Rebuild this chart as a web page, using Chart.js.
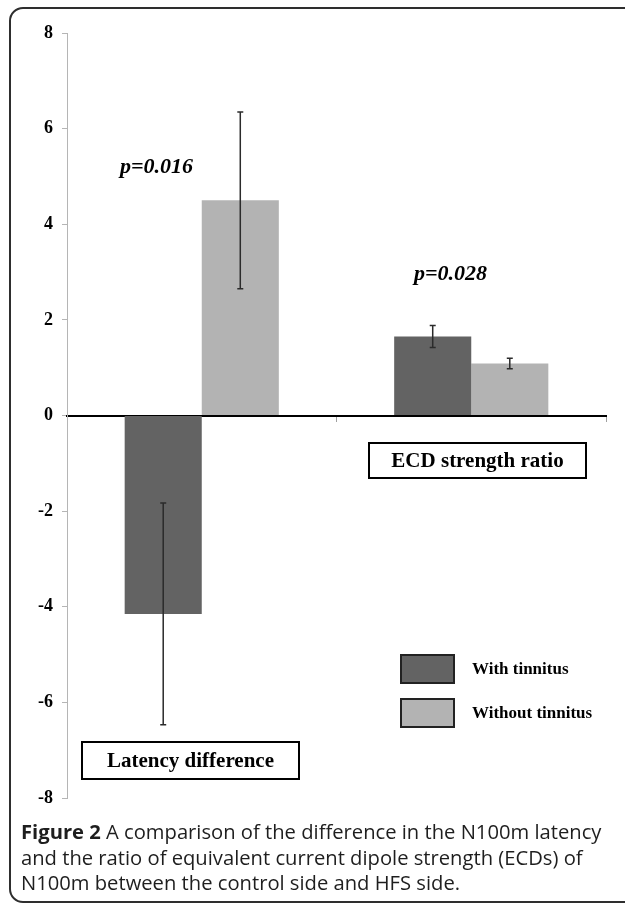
<!DOCTYPE html>
<html>
<head>
<meta charset="utf-8">
<script src="https://cdn.jsdelivr.net/npm/chart.js@4/dist/chart.umd.min.js"></script>
<style>
  html, body { margin: 0; padding: 0; background: #fff; }
  body { width: 625px; height: 903px; position: relative; overflow: hidden; }
  #frame {
    position: absolute; left: 9px; top: 7px; width: 700px; height: 892px;
    border: 2px solid #2e2e2e; border-radius: 14px;
  }
  #chart { position: absolute; left: 0; top: 0; }
  #caption {
    position: absolute; left: 21px; top: 819px; width: 600px;
    font-family: "Open Sans", sans-serif; font-size: 20.2px; line-height: 25.5px;
    color: #1e1e1e; white-space: nowrap;
  }
</style>
</head>
<body>
<div id="frame"></div>
<canvas id="chart" width="625" height="903"></canvas>
<div id="caption"><b>Figure 2</b> A comparison of the difference in the N100m latency<br>and the ratio of equivalent current dipole strength (ECDs) of<br>N100m between the control side and HFS side.</div>
<script>
const categories = ['Latency difference', 'ECD strength ratio'];
const seriesNames = ['With tinnitus', 'Without tinnitus'];
const withTinnitus = [-4.15, 1.65];
const withTinnitusErr = [2.32, 0.23];
const withoutTinnitus = [4.5, 1.09];
const withoutTinnitusErr = [1.85, 0.11];
const pValues = ['p=0.016', 'p=0.028'];
const yTicks = [-8, -6, -4, -2, 0, 2, 4, 6, 8];

const colors = ['#636363', '#b3b3b3'];
const serif = '"Liberation Serif", "Times New Roman", serif';

// error bars drawn from each bar element and the y scale
const errorBars = {
    id: 'errorBars',
    afterDatasetsDraw(chart) {
        const { ctx } = chart;
        const y = chart.scales.y;
        ctx.save();
        ctx.strokeStyle = '#2b2b2b';
        ctx.lineWidth = 1.5;
        chart.data.datasets.forEach((ds, i) => {
            chart.getDatasetMeta(i).data.forEach((bar, j) => {
                const top = y.getPixelForValue(ds.data[j] + ds.errors[j]);
                const bot = y.getPixelForValue(ds.data[j] - ds.errors[j]);
                ctx.beginPath();
                ctx.moveTo(bar.x, top); ctx.lineTo(bar.x, bot);
                ctx.moveTo(bar.x - 3, top); ctx.lineTo(bar.x + 3, top);
                ctx.moveTo(bar.x - 3, bot); ctx.lineTo(bar.x + 3, bot);
                ctx.stroke();
            });
        });
        ctx.restore();
    }
};

// p values, category boxes and the legend
const annotations = {
    id: 'annotations',
    afterDraw(chart) {
        const { ctx } = chart;
        ctx.save();
        ctx.fillStyle = '#000';
        ctx.textBaseline = 'middle';

        ctx.font = `italic bold 22px ${serif}`;
        ctx.textAlign = 'left';
        ctx.fillText(pValues[0], 120, 167);
        ctx.fillText(pValues[1], 414, 274);

        const boxes = [[82, 742, 217, 37], [369, 443, 217, 35]];
        ctx.font = `bold 21px ${serif}`;
        ctx.textAlign = 'center';
        ctx.lineWidth = 2;
        ctx.strokeStyle = '#000';
        boxes.forEach(([x, y, w, h], i) => {
            ctx.strokeRect(x, y, w, h);
            ctx.fillText(categories[i], x + w / 2, y + h / 2 + 1);
        });

        ctx.font = `bold 17px ${serif}`;
        ctx.textAlign = 'left';
        ctx.strokeStyle = '#222';
        chart.data.datasets.forEach((ds, i) => {
            const top = 655 + i * 44;
            ctx.fillStyle = ds.backgroundColor;
            ctx.fillRect(401, top, 53, 28);
            ctx.strokeRect(401, top, 53, 28);
            ctx.fillStyle = '#000';
            ctx.fillText(ds.label, 472, top + 15);
        });
        ctx.restore();
    }
};

new Chart(document.getElementById('chart'), {
    type: 'bar',
    data: {
        labels: categories,
        datasets: [
            { label: seriesNames[0], data: withTinnitus, errors: withTinnitusErr, backgroundColor: colors[0] },
            { label: seriesNames[1], data: withoutTinnitus, errors: withoutTinnitusErr, backgroundColor: colors[1] }
        ]
    },
    options: {
        responsive: false,
        animation: false,
        categoryPercentage: 0.572,
        barPercentage: 1,
        layout: { padding: { top: 33, bottom: 105, right: 19, left: 0 } },
        plugins: { legend: { display: false }, tooltip: { enabled: false } },
        scales: {
            x: {
                position: { y: 0 },
                z: 1,
                afterFit: s => { s.height = 0; },
                border: { color: '#000', width: 2 },
                grid: { drawOnChartArea: false, tickLength: 5, color: '#a0a0a0' },
                ticks: { display: false }
            },
            y: {
                min: yTicks[0],
                max: yTicks[yTicks.length - 1],
                afterFit: s => { s.width = 67; },
                afterBuildTicks: s => { s.ticks = yTicks.map(v => ({ value: v })); },
                border: { color: '#b5b5b5', width: 1 },
                grid: { drawOnChartArea: false, tickLength: 5, color: '#b5b5b5' },
                ticks: { color: '#000', padding: 9, font: { family: serif, size: 18, weight: 'bold' } }
            }
        }
    },
    plugins: [errorBars, annotations]
});
</script>
</body>
</html>
